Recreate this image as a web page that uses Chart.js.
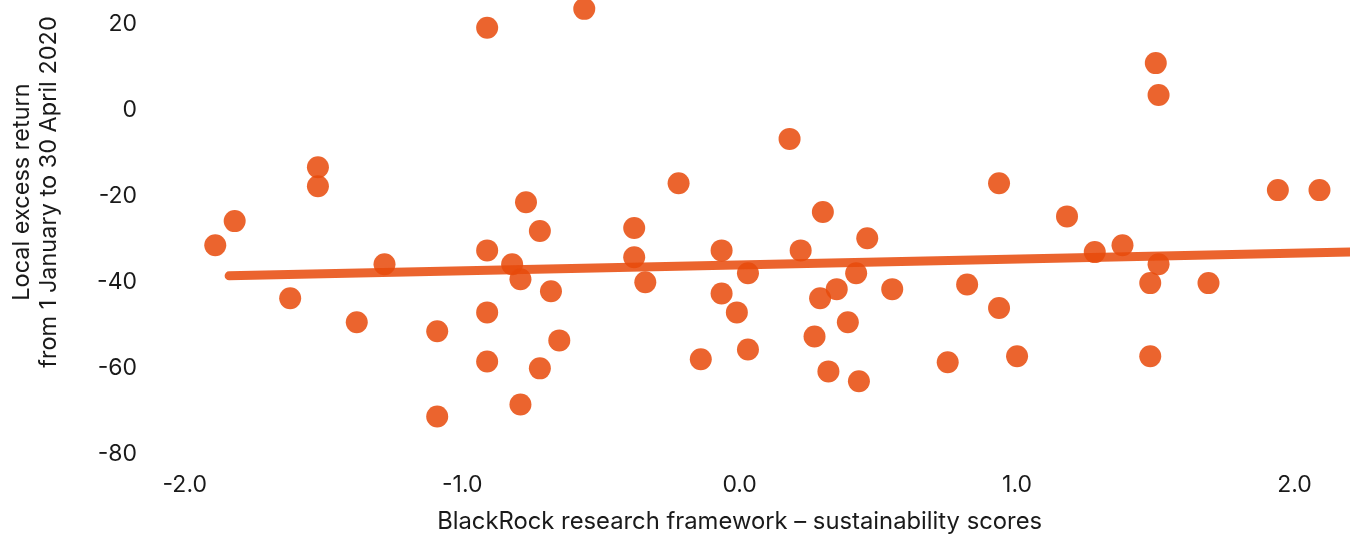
<!DOCTYPE html>
<html><head><meta charset="utf-8">
<script src="https://cdn.jsdelivr.net/npm/chart.js@4.4.1/dist/chart.umd.min.js"></script>
<style>html,body{margin:0;padding:0;background:#fff;}#wrap{width:1361px;height:536px;position:relative;}</style>
</head><body><div id="wrap"><canvas id="c" width="1361" height="536"></canvas></div>
<script>
const scores = [-1.89,-1.82,-1.62,-1.52,-1.52,-1.28,-1.38,-1.09,-1.09,-0.91,-0.91,-0.91,-0.91,-0.82,-0.77,-0.79,-0.79,-0.72,-0.68,-0.72,-0.65,-0.56,-0.38,-0.38,-0.34,-0.22,-0.14,-0.065,-0.065,-0.01,0.03,0.03,0.18,0.22,0.30,0.29,0.27,0.32,0.35,0.39,0.42,0.43,0.46,0.55,0.75,0.82,0.935,0.935,1.00,1.18,1.28,1.38,1.48,1.48,1.50,1.51,1.51,1.69,1.94,2.09];
const returns = [-31.4,-25.8,-43.7,-13.3,-17.7,-35.8,-49.3,-51.4,-71.2,19.1,-32.6,-47.0,-58.4,-35.8,-21.4,-39.3,-68.4,-28.1,-42.1,-60.0,-53.5,23.5,-27.4,-34.2,-40.0,-17.0,-57.9,-32.6,-42.6,-47.0,-37.9,-55.6,-6.7,-32.6,-23.7,-43.7,-52.6,-60.7,-41.6,-49.3,-37.9,-63.0,-29.8,-41.6,-58.6,-40.5,-17.0,-46.0,-57.2,-24.7,-33.0,-31.4,-40.2,-57.2,10.9,3.5,-35.8,-40.2,-18.6,-18.6];
const trendScores = [-1.84, 2.25];
const trendReturns = [-38.5, -32.9];
const xTickValues = [-2, -1, 0, 1, 2];
const yTickValues = [-80, -60, -40, -20, 0, 20];
const xTitle = 'BlackRock research framework \u2013 sustainability scores';
const yTitleLines = ['Local excess return', 'from 1 January to 30 April 2020'];

const FONT = 'Inter';
const TXT = '#1a1a1a';
const ORANGE = 'rgba(232,74,12,0.86)';

const axisTitlePlugin = {
  id: 'axisTitles',
  afterDraw(chart) {
    const ctx = chart.ctx;
    ctx.save();
    ctx.fillStyle = TXT;
    ctx.textAlign = 'center';
    ctx.textBaseline = 'middle';
    // x-axis title, centred under the 0.0 tick
    ctx.font = '23.8px ' + FONT;
    ctx.fillText(xTitle, chart.scales.x.getPixelForValue(0), 522);
    // y-axis title, two rotated lines
    ctx.font = '23.5px ' + FONT;
    const xs = [22, 49];
    yTitleLines.forEach((line, i) => {
      ctx.save();
      ctx.translate(xs[i], 192);
      ctx.rotate(-Math.PI / 2);
      ctx.fillText(line, 0, 0);
      ctx.restore();
    });
    ctx.restore();
  }
};

new Chart(document.getElementById('c'), {
  data: {
    datasets: [
      {
        type: 'scatter',
        data: scores.map((x, i) => ({x, y: returns[i]})),
        backgroundColor: ORANGE,
        borderWidth: 0,
        pointRadius: 11,
        pointHoverRadius: 11,
        clip: false,
        order: 2
      },
      {
        type: 'line',
        data: trendScores.map((x, i) => ({x, y: trendReturns[i]})),
        borderColor: ORANGE,
        borderWidth: 9,
        borderCapStyle: 'round',
        pointRadius: 0,
        fill: false,
        order: 1
      }
    ]
  },
  plugins: [axisTitlePlugin],
  options: {
    responsive: false,
    devicePixelRatio: 1,
    animation: false,
    layout: { padding: { left: 0, right: 8.4, top: 1.5, bottom: 0 } },
    plugins: { legend: { display: false }, tooltip: { enabled: false } },
    scales: {
      x: {
        type: 'linear',
        min: -2.1, max: 2.2,
        grid: { display: false, drawTicks: false },
        border: { display: false },
        afterBuildTicks: s => { s.ticks = xTickValues.map(v => ({value: v})); },
        afterFit: s => { s.height = 61.5; s.paddingLeft = 0; s.paddingRight = 0; },
        ticks: { color: TXT, font: { family: FONT, size: 23 }, padding: -3, maxRotation: 0,
                 callback: v => Number(v).toFixed(1) },
        title: { display: false }
      },
      y: {
        type: 'linear',
        min: -84.65, max: 23.0,
        grid: { display: false, drawTicks: false },
        border: { display: false },
        afterBuildTicks: s => { s.ticks = yTickValues.map(v => ({value: v})); },
        afterFit: s => { s.width = 157; s.paddingTop = 0; s.paddingBottom = 0; },
        ticks: { color: TXT, font: { family: FONT, size: 23 }, padding: 20,
                 callback: v => String(v) }
      }
    }
  }
});
</script></body></html>
